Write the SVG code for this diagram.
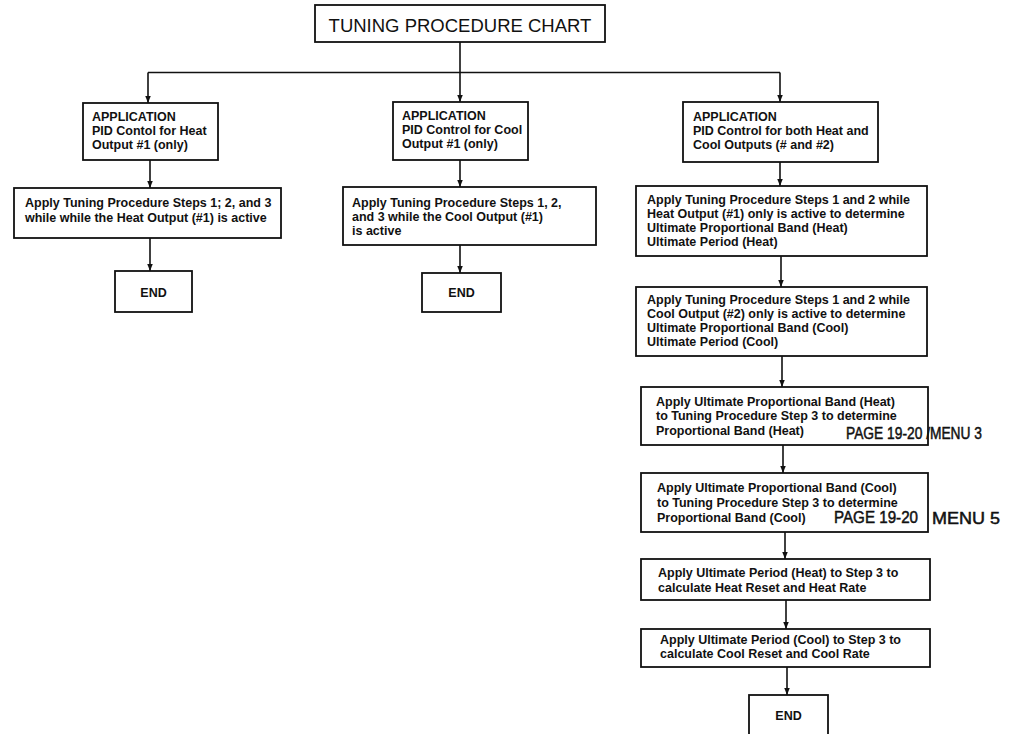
<svg xmlns="http://www.w3.org/2000/svg" width="1013" height="734" viewBox="0 0 1013 734">
<style>
  .box { fill: #fff; stroke: #111; stroke-width: 1.8; }
  .con { fill: none; stroke: #111; stroke-width: 1.6; }
  .t { font-family: "Liberation Sans", Arial, sans-serif; font-weight: bold; font-size: 12.5px; fill: #111; }
  .c { text-anchor: middle; }
  .title { font-family: "Liberation Sans", Arial, sans-serif; font-size: 18.5px; fill: #111; }
  .hand { font-family: "Liberation Sans", Arial, sans-serif; font-size: 17px; fill: #111; stroke: #111; stroke-width: 0.5; }
</style>
<defs>
  <marker id="ah" viewBox="0 0 10 10" refX="10" refY="5" markerWidth="7" markerHeight="5.5" markerUnits="userSpaceOnUse" orient="auto" preserveAspectRatio="none">
    <path d="M0,0 L10,5 L0,10 z" fill="#111"/>
  </marker>
</defs>
<rect width="1013" height="734" fill="#fff"/>

<g id="connectors">
  <path class="con" d="M460,42 V72.5"/>
  <path class="con" d="M148,72.5 H780"/>
  <path class="con" d="M148,72.5 V103" marker-end="url(#ah)"/>
  <path class="con" d="M460,72.5 V102" marker-end="url(#ah)"/>
  <path class="con" d="M780,72.5 V102" marker-end="url(#ah)"/>
  <path class="con" d="M150,160 V188" marker-end="url(#ah)"/>
  <path class="con" d="M150,238 V271" marker-end="url(#ah)"/>
  <path class="con" d="M460,160 V187" marker-end="url(#ah)"/>
  <path class="con" d="M460,245 V273" marker-end="url(#ah)"/>
  <path class="con" d="M780,162 V186" marker-end="url(#ah)"/>
  <path class="con" d="M781,256 V287" marker-end="url(#ah)"/>
  <path class="con" d="M782,356 V387" marker-end="url(#ah)"/>
  <path class="con" d="M783,445 V473" marker-end="url(#ah)"/>
  <path class="con" d="M785,532 V559" marker-end="url(#ah)"/>
  <path class="con" d="M786,600 V629" marker-end="url(#ah)"/>
  <path class="con" d="M787,667 V695" marker-end="url(#ah)"/>
</g>

<g id="title">
  <rect class="box" x="315" y="5" width="290" height="37"/>
  <text class="title c" x="460" y="32">TUNING PROCEDURE CHART</text>
</g>

<g id="app-heat">
  <rect class="box" x="83" y="103" width="135" height="57"/>
  <text class="t" x="92" y="121">APPLICATION</text>
  <text class="t" x="92" y="135">PID Contol for Heat</text>
  <text class="t" x="92" y="149">Output #1 (only)</text>
</g>
<g id="steps-heat">
  <rect class="box" x="14" y="188" width="267" height="50"/>
  <text class="t" x="25" y="207">Apply Tuning Procedure Steps 1; 2, and 3</text>
  <text class="t" x="25" y="222">while while the Heat Output (#1) is active</text>
</g>
<g id="end-heat">
  <rect class="box" x="115" y="271" width="77" height="41"/>
  <text class="t c" x="153.5" y="297">END</text>
</g>

<g id="app-cool">
  <rect class="box" x="393" y="102" width="135" height="58"/>
  <text class="t" x="402" y="120">APPLICATION</text>
  <text class="t" x="402" y="134">PID Control for Cool</text>
  <text class="t" x="402" y="148">Output #1 (only)</text>
</g>
<g id="steps-cool">
  <rect class="box" x="343" y="187" width="253" height="58"/>
  <text class="t" x="352" y="207">Apply Tuning Procedure Steps 1, 2,</text>
  <text class="t" x="352" y="221">and 3 while the Cool Output (#1)</text>
  <text class="t" x="352" y="235">is active</text>
</g>
<g id="end-cool">
  <rect class="box" x="422" y="273" width="79" height="39"/>
  <text class="t c" x="461.5" y="297">END</text>
</g>

<g id="app-both">
  <rect class="box" x="683" y="102" width="195" height="60"/>
  <text class="t" x="693" y="121">APPLICATION</text>
  <text class="t" x="693" y="135">PID Control for both Heat and</text>
  <text class="t" x="693" y="149">Cool Outputs (# and #2)</text>
</g>
<g id="steps-heat-12">
  <rect class="box" x="636" y="186" width="291" height="70"/>
  <text class="t" x="647" y="204">Apply Tuning Procedure Steps 1 and 2 while</text>
  <text class="t" x="647" y="218">Heat Output (#1) only is active to determine</text>
  <text class="t" x="647" y="232">Ultimate Proportional Band (Heat)</text>
  <text class="t" x="647" y="246">Ultimate Period (Heat)</text>
</g>
<g id="steps-cool-12">
  <rect class="box" x="636" y="287" width="291" height="69"/>
  <text class="t" x="647" y="304">Apply Tuning Procedure Steps 1 and 2 while</text>
  <text class="t" x="647" y="318">Cool Output (#2) only is active to determine</text>
  <text class="t" x="647" y="332">Ultimate Proportional Band (Cool)</text>
  <text class="t" x="647" y="346">Ultimate Period (Cool)</text>
</g>
<g id="pb-heat">
  <rect class="box" x="641" y="387" width="287" height="58"/>
  <text class="t" x="656" y="406">Apply Ultimate Proportional Band (Heat)</text>
  <text class="t" x="656" y="420">to Tuning Procedure Step 3 to determine</text>
  <text class="t" x="656" y="435">Proportional Band (Heat)</text>
  <text class="hand" x="846" y="439" textLength="136" lengthAdjust="spacingAndGlyphs">PAGE 19-20 /MENU 3</text>
</g>
<g id="pb-cool">
  <rect class="box" x="641" y="473" width="287" height="59"/>
  <text class="t" x="657" y="492">Apply Ultimate Proportional Band (Cool)</text>
  <text class="t" x="657" y="507">to Tuning Procedure Step 3 to determine</text>
  <text class="t" x="657" y="522">Proportional Band (Cool)</text>
  <text class="hand" x="834" y="523" textLength="84" lengthAdjust="spacingAndGlyphs">PAGE 19-20</text>
  <text class="hand" x="932" y="524" textLength="68" lengthAdjust="spacingAndGlyphs">MENU 5</text>
</g>
<g id="rate-heat">
  <rect class="box" x="641" y="559" width="289" height="41"/>
  <text class="t" x="658" y="577">Apply Ultimate Period (Heat) to Step 3 to</text>
  <text class="t" x="658" y="592">calculate Heat Reset and Heat Rate</text>
</g>
<g id="rate-cool">
  <rect class="box" x="641" y="629" width="289" height="38"/>
  <text class="t" x="660" y="644">Apply Ultimate Period (Cool) to Step 3 to</text>
  <text class="t" x="660" y="658">calculate Cool Reset and Cool Rate</text>
</g>
<g id="end-both">
  <rect class="box" x="749" y="695" width="79" height="50"/>
  <text class="t c" x="788.5" y="720">END</text>
</g>
</svg>
